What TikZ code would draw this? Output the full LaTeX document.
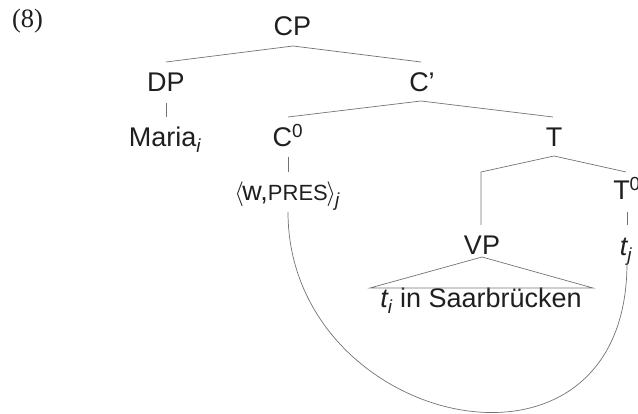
\documentclass[tikz,border=0pt]{standalone}
\usepackage{fontspec}
\setmainfont{Liberation Sans}
\newfontfamily\exnum{Liberation Serif}
\begin{document}
\begin{tikzpicture}[x=1pt,y=-1pt,
  lab/.style={anchor=base, inner sep=0pt, text=black!88, font=\fontsize{27}{30}\selectfont},
  br/.style={draw=black!55, line width=0.7pt}]
\clip (0,0) rectangle (638,414);
\useasboundingbox (0,0) rectangle (638,414);
% labels
\node[lab] (ex) at (27.5,28) {\exnum\fontsize{26.5}{28}\selectfont (8)};
\node[lab] (CP) at (292.5,36) {CP};
\node[lab] (DP) at (166,92) {DP};
\node[lab] (Cbar) at (422,92) {C’};
\node[lab] (Maria) at (165,147) {Maria\textsubscript{\itshape i}};
\node[lab] (C0) at (288,147) {C\textsuperscript{0}};
\node[lab] (T) at (554,147) {T};
\node[lab] (WP) at (287,201) {$\langle$\kern-1.5pt w,{\fontsize{22}{24}\selectfont PRES}\kern-1.5pt$\rangle$\kern-1pt\textsubscript{\itshape j}};
\node[lab] (T0) at (627,200) {T\textsuperscript{0}};
\node[lab] (VP) at (482,255) {VP};
\node[lab] (tj) at (626,256) {{\itshape t}\textsubscript{\itshape j}};
\node[lab] (VPc) at (481,308) {{\itshape t}\textsubscript{\itshape i} in Saarbrücken};
% joints
\coordinate (CPb) at (293,46);
\coordinate (DPt) at (166,62);
\coordinate (Cbt) at (421,62);
\coordinate (DPb) at (166,103);
\coordinate (Mt) at (166,117);
\coordinate (Cbb) at (421,101);
\coordinate (C0t) at (288,117);
\coordinate (Tt) at (553,117);
\coordinate (C0b) at (288,157);
\coordinate (WPt) at (288,172);
\coordinate (Tb) at (554,156);
\coordinate (Tl) at (481,172);
\coordinate (VPt) at (481,225);
\coordinate (T0t) at (626,172);
\coordinate (T0b) at (627,212);
\coordinate (tjt) at (627,225);
\coordinate (VPb) at (482,257);
\coordinate (VPl) at (370,288);
\coordinate (VPr) at (593,288);
\coordinate (WPb) at (288,212);
\coordinate (tjb) at (627,263);
% branches
\draw[br] (DPt) -- (CPb) -- (Cbt);
\draw[br] (DPb) -- (Mt);
\draw[br] (C0t) -- (Cbb) -- (Tt);
\draw[br] (C0b) -- (WPt);
\draw[br] (VPt) -- (Tl) -- (Tb) -- (T0t);
\draw[br] (T0b) -- (tjt);
\draw[br] (VPb) -- (VPl) -- (VPr) -- cycle;
\draw[br] (WPb) .. controls (288,428) and (627,505) .. (tjb);
\end{tikzpicture}
\end{document}
